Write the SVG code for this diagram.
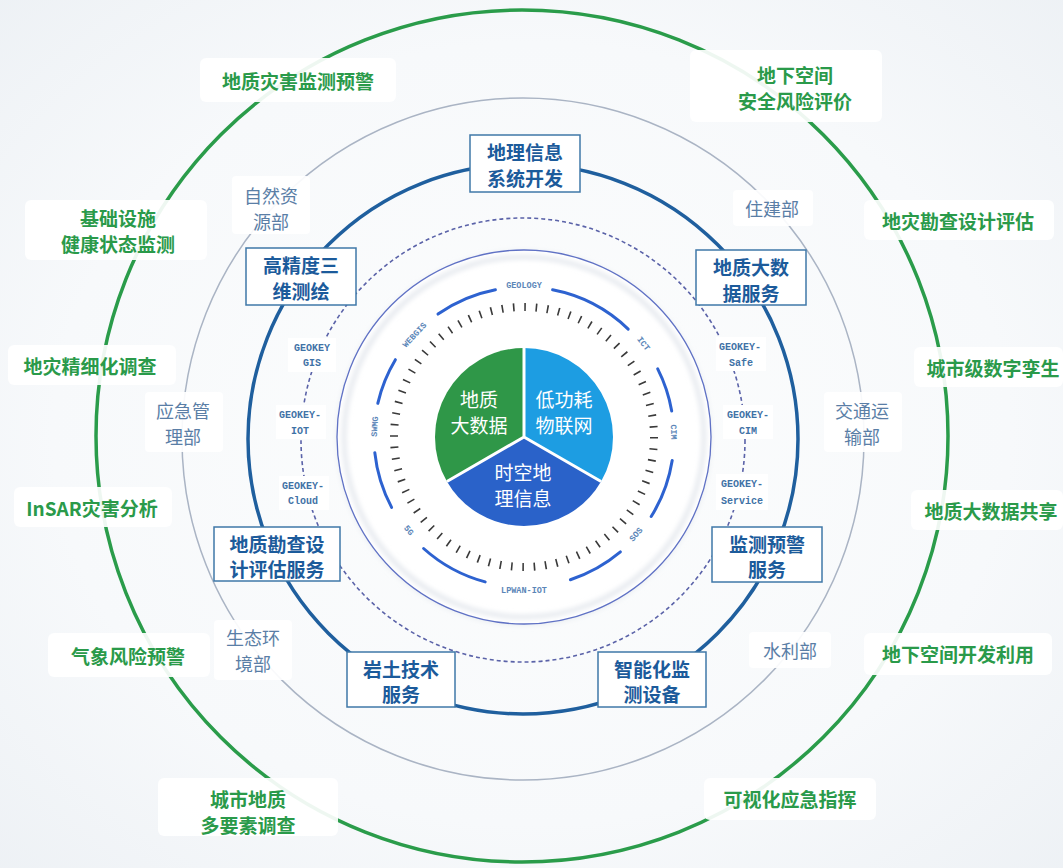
<svg xmlns="http://www.w3.org/2000/svg" width="1063" height="868" viewBox="0 0 1063 868">
<defs>
<radialGradient id="bg" cx="50%" cy="50%" r="75%">
<stop offset="0" stop-color="#fcfdfd"/>
<stop offset="0.6" stop-color="#f7f9fb"/>
<stop offset="1" stop-color="#ecf0f4"/>
</radialGradient>
<filter id="soft" x="-20%" y="-20%" width="140%" height="140%"><feGaussianBlur stdDeviation="2.5"/></filter>
<filter id="glow" x="-30%" y="-30%" width="160%" height="160%"><feGaussianBlur stdDeviation="3"/></filter>
<style>
.green{fill:#2a9a4a;font-family:"Noto Sans CJK SC","Noto Sans",sans-serif;font-size:19px;font-weight:700;text-anchor:middle;dominant-baseline:central}
.dept{fill:#5a7ea6;font-family:"Noto Sans CJK SC","Noto Sans",sans-serif;font-size:18px;text-anchor:middle;dominant-baseline:central}
.svc{fill:#1c5b9b;font-family:"Noto Sans CJK SC","Noto Sans",sans-serif;font-size:19px;font-weight:700;text-anchor:middle;dominant-baseline:central}
.pie{fill:#ffffff;font-family:"Noto Sans CJK SC","Noto Sans",sans-serif;font-size:19px;text-anchor:middle;dominant-baseline:central}
.gk{fill:#3f72a6;font-family:"Liberation Mono",monospace;font-size:10px;font-weight:700;text-anchor:middle;dominant-baseline:central}
.rl{fill:#5b86b8;font-family:"Liberation Mono",monospace;font-size:8.5px;font-weight:700;text-anchor:middle;dominant-baseline:central}
.gbg{fill:#ffffff;opacity:0.92}
.box{fill:#ffffff;stroke:#3f78a8;stroke-width:1.5}
.arc{fill:none;stroke:#2d62d0;stroke-width:3;stroke-linecap:round}
</style>
</defs>
<rect x="0" y="0" width="1063" height="868" fill="url(#bg)"/>

<g id="connectors">
<circle cx="522" cy="436" r="426" fill="none" stroke="#2a9c4a" stroke-width="3.5"/>
<circle cx="523" cy="439" r="341" fill="none" stroke="#aab4c4" stroke-width="1.5"/>
<circle cx="523" cy="439" r="275" fill="none" stroke="#1f5f9e" stroke-width="3.5"/>
<circle cx="523" cy="440" r="222" fill="none" stroke="#5a62a8" stroke-width="1.6" stroke-dasharray="4 3"/>
</g>

<g id="inner-disc">
<circle cx="524" cy="438" r="186" fill="#dfe4ea" filter="url(#glow)"/>
<circle cx="524" cy="437" r="187" fill="#ffffff" stroke="#5d6fc4" stroke-width="1.3"/>
<circle cx="524" cy="437" r="180" fill="none" stroke="#e2e6ec" stroke-width="4" filter="url(#soft)"/>
<circle cx="524" cy="437" r="130" fill="none" stroke="#3a3a3a" stroke-width="8" stroke-dasharray="1.6 9.745"/>
<path class="arc" d="M552.6,289.8 A150,150 0 0 1 628.2,329.1"/>
<path class="arc" d="M657.7,368.9 A150,150 0 0 1 671.7,411.0"/>
<path class="arc" d="M672.2,460.5 A150,150 0 0 1 651.2,516.5"/>
<path class="arc" d="M620.4,551.9 A150,150 0 0 1 570.4,579.7"/>
<path class="arc" d="M485.2,581.9 A150,150 0 0 1 423.6,548.5"/>
<path class="arc" d="M391.6,507.4 A150,150 0 0 1 374.8,452.7"/>
<path class="arc" d="M377.8,403.3 A150,150 0 0 1 395.4,359.7"/>
<path class="arc" d="M438.0,314.1 A150,150 0 0 1 495.4,289.8"/>
<text class="rl" x="524" y="286">GEOLOGY</text>
<text class="rl" x="643" y="344" transform="rotate(52 643 344)">ICT</text>
<text class="rl" x="673" y="432" transform="rotate(88 673 432)">CIM</text>
<text class="rl" x="636.5" y="534.8" transform="rotate(-49 636.5 534.8)">SOS</text>
<text class="rl" x="524" y="591">LPWAN-IOT</text>
<text class="rl" x="408.2" y="530.8" transform="rotate(51 408.2 530.8)">5G</text>
<text class="rl" x="375.4" y="426.6" transform="rotate(-86 375.4 426.6)">SWMG</text>
<text class="rl" x="415" y="335.4" transform="rotate(-47 415 335.4)">WEBGIS</text>
</g>

<g id="pie">
<path d="M524,437 L446.92,481.5 A89,89 0 0 1 524,348 Z" fill="#2f9748"/>
<path d="M524,437 L524,348 A89,89 0 0 1 601.08,481.5 Z" fill="#1d9de2"/>
<path d="M524,437 L601.08,481.5 A89,89 0 0 1 446.92,481.5 Z" fill="#2a62c9"/>
<path d="M524,437 L524,348 M524,437 L601.08,481.5 M524,437 L446.92,481.5" stroke="#ffffff" stroke-width="3" fill="none"/>
<text class="pie" x="479" y="398">地质</text>
<text class="pie" x="479" y="424">大数据</text>
<text class="pie" x="564" y="398">低功耗</text>
<text class="pie" x="564" y="424">物联网</text>
<text class="pie" x="523" y="471">时空地</text>
<text class="pie" x="523" y="497">理信息</text>
</g>

<g id="geokey-gis"><rect x="288" y="338" width="48" height="34" fill="#ffffff"/><text class="gk" x="312" y="348">GEOKEY</text><text class="gk" x="312" y="363">GIS</text></g>
<g id="geokey-iot"><rect x="276" y="405" width="50" height="34" fill="#ffffff"/><text class="gk" x="300" y="415">GEOKEY-</text><text class="gk" x="300" y="431">IOT</text></g>
<g id="geokey-cloud"><rect x="279" y="476" width="50" height="34" fill="#ffffff"/><text class="gk" x="303" y="486">GEOKEY-</text><text class="gk" x="303" y="501">Cloud</text></g>
<g id="geokey-safe"><rect x="716" y="337" width="50" height="34" fill="#ffffff"/><text class="gk" x="740" y="347">GEOKEY-</text><text class="gk" x="741" y="363">Safe</text></g>
<g id="geokey-cim"><rect x="723" y="405" width="50" height="34" fill="#ffffff"/><text class="gk" x="748" y="415">GEOKEY-</text><text class="gk" x="748" y="431">CIM</text></g>
<g id="geokey-service"><rect x="716" y="474" width="52" height="36" fill="#ffffff"/><text class="gk" x="742" y="484">GEOKEY-</text><text class="gk" x="742" y="501">Service</text></g>

<g id="svc-gis"><rect class="box" x="470" y="135" width="110" height="57"/><text class="svc" x="525" y="151">地理信息</text><text class="svc" x="525" y="177">系统开发</text></g>
<g id="svc-3d"><rect class="box" x="246" y="248" width="110" height="57"/><text class="svc" x="301" y="264">高精度三</text><text class="svc" x="301" y="290">维测绘</text></g>
<g id="svc-bigdata"><rect class="box" x="696" y="250" width="110" height="55"/><text class="svc" x="751" y="266">地质大数</text><text class="svc" x="751" y="292">据服务</text></g>
<g id="svc-survey"><rect class="box" x="214" y="527" width="126" height="54"/><text class="svc" x="277" y="543">地质勘查设</text><text class="svc" x="277" y="568">计评估服务</text></g>
<g id="svc-warn"><rect class="box" x="712" y="527" width="110" height="55"/><text class="svc" x="767" y="543">监测预警</text><text class="svc" x="767" y="568">服务</text></g>
<g id="svc-geotech"><rect class="box" x="347" y="652" width="108" height="55"/><text class="svc" x="401" y="668">岩土技术</text><text class="svc" x="401" y="693">服务</text></g>
<g id="svc-device"><rect class="box" x="598" y="652" width="108" height="55"/><text class="svc" x="652" y="668">智能化监</text><text class="svc" x="652" y="693">测设备</text></g>

<g id="dept-ziran"><rect class="gbg" x="232" y="176" width="78" height="58" rx="4"/><text class="dept" x="271" y="195">自然资</text><text class="dept" x="271" y="221">源部</text></g>
<g id="dept-zhujian"><rect class="gbg" x="733" y="190" width="80" height="36" rx="4"/><text class="dept" x="772" y="208">住建部</text></g>
<g id="dept-yingji"><rect class="gbg" x="145" y="392" width="78" height="60" rx="4"/><text class="dept" x="183" y="410">应急管</text><text class="dept" x="183" y="436">理部</text></g>
<g id="dept-jiaotong"><rect class="gbg" x="824" y="392" width="78" height="60" rx="4"/><text class="dept" x="862" y="410">交通运</text><text class="dept" x="862" y="436">输部</text></g>
<g id="dept-shengtai"><rect class="gbg" x="214" y="620" width="78" height="60" rx="4"/><text class="dept" x="253" y="637">生态环</text><text class="dept" x="253" y="663">境部</text></g>
<g id="dept-shuili"><rect class="gbg" x="749" y="632" width="82" height="36" rx="4"/><text class="dept" x="790" y="650">水利部</text></g>

<g id="app-1"><rect class="gbg" x="200" y="58" width="196" height="44" rx="6"/><text class="green" x="298" y="80">地质灾害监测预警</text></g>
<g id="app-2"><rect class="gbg" x="690" y="50" width="192" height="72" rx="6"/><text class="green" x="795" y="74">地下空间</text><text class="green" x="795" y="100">安全风险评价</text></g>
<g id="app-3"><rect class="gbg" x="25" y="200" width="182" height="60" rx="6"/><text class="green" x="118" y="217">基础设施</text><text class="green" x="118" y="243">健康状态监测</text></g>
<g id="app-4"><rect class="gbg" x="864" y="200" width="190" height="40" rx="6"/><text class="green" x="958" y="220">地灾勘查设计评估</text></g>
<g id="app-5"><rect class="gbg" x="8" y="345" width="168" height="40" rx="6"/><text class="green" x="90" y="365">地灾精细化调查</text></g>
<g id="app-6"><rect class="gbg" x="914" y="347" width="149" height="40" rx="6"/><text class="green" x="993" y="367">城市级数字孪生</text></g>
<g id="app-7"><rect class="gbg" x="14" y="487" width="158" height="40" rx="6"/><text class="green" x="92" y="507">InSAR灾害分析</text></g>
<g id="app-8"><rect class="gbg" x="911" y="490" width="152" height="40" rx="6"/><text class="green" x="991" y="510">地质大数据共享</text></g>
<g id="app-9"><rect class="gbg" x="48" y="633" width="162" height="44" rx="6"/><text class="green" x="128" y="655">气象风险预警</text></g>
<g id="app-10"><rect class="gbg" x="864" y="633" width="188" height="42" rx="6"/><text class="green" x="958" y="653">地下空间开发利用</text></g>
<g id="app-11"><rect class="gbg" x="158" y="778" width="180" height="58" rx="6"/><text class="green" x="248" y="798">城市地质</text><text class="green" x="248" y="824">多要素调查</text></g>
<g id="app-12"><rect class="gbg" x="704" y="778" width="172" height="42" rx="6"/><text class="green" x="790" y="798">可视化应急指挥</text></g>
</svg>
